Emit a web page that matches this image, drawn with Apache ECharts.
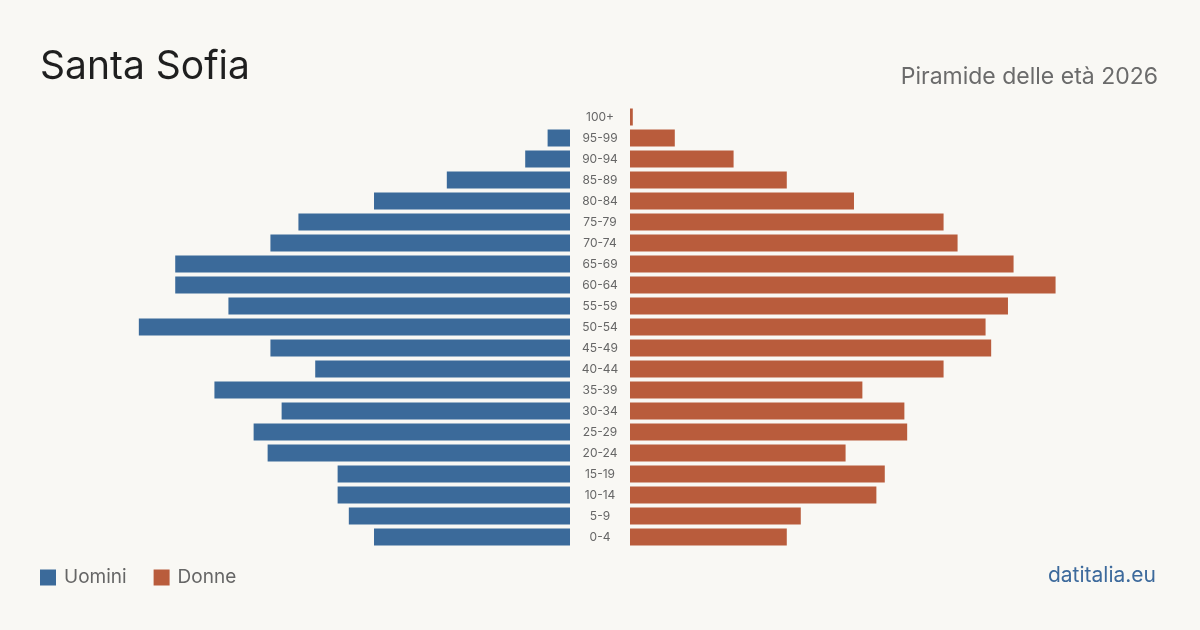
<!DOCTYPE html>
<html>
<head>
<meta charset="utf-8">
<script src="https://cdn.jsdelivr.net/npm/echarts@6/dist/echarts.min.js"></script>
<style>
  html, body { margin: 0; padding: 0; background: #f9f8f4; }
  #chart { width: 1200px; height: 630px; }
</style>
</head>
<body>
<div id="chart"></div>
<script>
// fasce d'età, dal basso verso l'alto
const ageGroups = ['0-4', '5-9', '10-14', '15-19', '20-24', '25-29', '30-34', '35-39', '40-44', '45-49',
  '50-54', '55-59', '60-64', '65-69', '70-74', '75-79', '80-84', '85-89', '90-94', '95-99', '100+'];
const men = [70, 79, 83, 83, 108, 113, 103, 127, 91, 107, 154, 122, 141, 141, 107, 97, 70, 44, 16, 8, 0];
const women = [56, 61, 88, 91, 77, 99, 98, 83, 112, 129, 127, 135, 152, 137, 117, 112, 80, 56, 37, 16, 1];

const blue = '#3b6a9a';
const orange = '#b95c3c';
const font = 'Inter, "Noto Sans", sans-serif';
const axisMax = 189.3;

const chart = echarts.init(document.getElementById('chart'), null, { renderer: 'canvas' });

const option = {
  backgroundColor: '#f9f8f4',
  animation: false,
  textStyle: { fontFamily: font },
  legend: {
    left: 35,
    top: 563,
    icon: 'rect',
    itemWidth: 16,
    itemHeight: 16,
    itemGap: 27,
    textStyle: { fontSize: 19, color: '#666', fontFamily: font, padding: [0, 0, 0, 3] },
    data: ['Uomini', 'Donne']
  },
  grid: [
    { left: 40, width: 530, top: 106.5, height: 441 },
    { left: 630, width: 530, top: 106.5, height: 441 }
  ],
  xAxis: [
    { gridIndex: 0, type: 'value', min: 0, max: axisMax, inverse: true, show: false },
    { gridIndex: 1, type: 'value', min: 0, max: axisMax, show: false }
  ],
  yAxis: [
    { gridIndex: 0, type: 'category', data: ageGroups, show: false },
    {
      gridIndex: 1, type: 'category', data: ageGroups, position: 'left',
      axisLine: { show: false }, axisTick: { show: false },
      axisLabel: { align: 'center', margin: 30, fontSize: 12, color: '#666', fontFamily: font }
    }
  ],
  series: [
    {
      name: 'Uomini', type: 'bar', xAxisIndex: 0, yAxisIndex: 0,
      data: men, barWidth: 17, itemStyle: { color: blue }
    },
    {
      name: 'Donne', type: 'bar', xAxisIndex: 1, yAxisIndex: 1,
      data: women, barWidth: 17, itemStyle: { color: orange }
    }
  ],
  graphic: [
    {
      type: 'text', left: 40, top: 48,
      style: { text: 'Santa Sofia', fontSize: 39, fill: '#1f1f1f', fontFamily: font }
    },
    {
      type: 'text', right: 42, top: 66,
      style: { text: 'Piramide delle età 2026', fontSize: 23, fill: '#6b6b6b', fontFamily: font }
    },
    {
      type: 'text', right: 44, top: 565,
      style: { text: 'datitalia.eu', fontSize: 21, fill: '#3d6a9c', fontFamily: font }
    }
  ]
};

chart.setOption(option);
</script>
</body>
</html>
